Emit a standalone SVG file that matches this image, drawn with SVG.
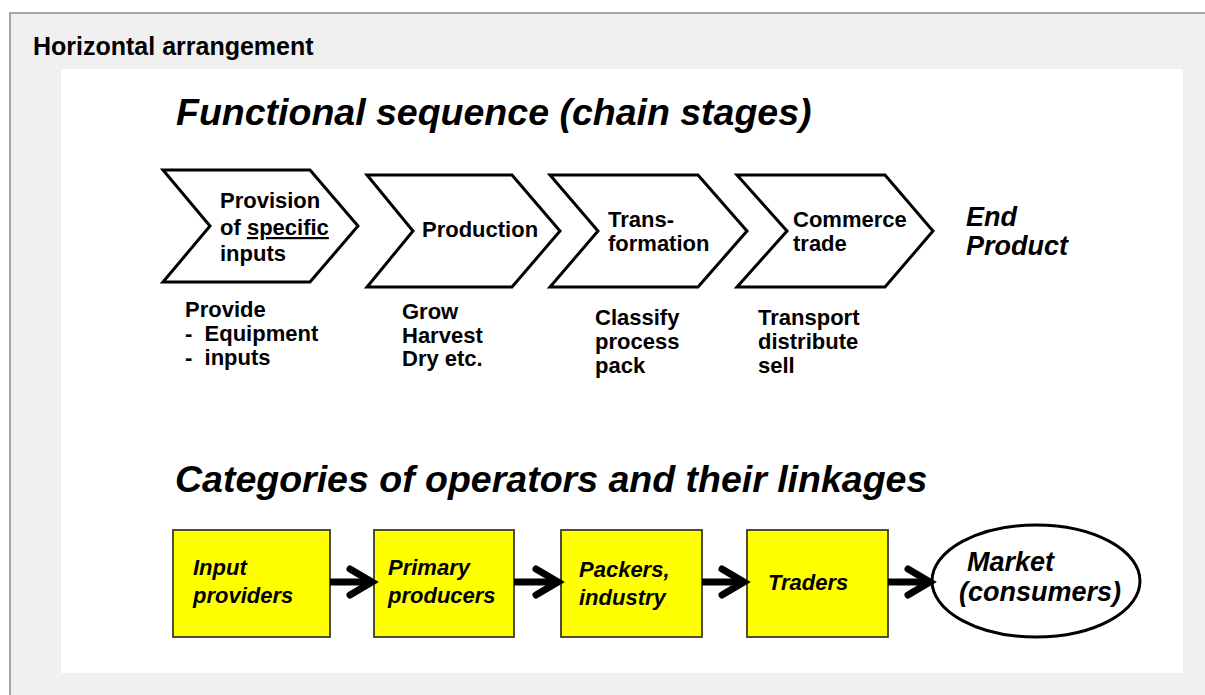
<svg xmlns="http://www.w3.org/2000/svg" width="1205" height="695" viewBox="0 0 1205 695">
<defs>
<style>
.hdr{font-family:"Liberation Sans",Arial,sans-serif;font-weight:bold;font-size:25px;fill:#000}
.title{font-family:"Liberation Sans",Arial,sans-serif;font-weight:bold;font-style:italic;font-size:37.5px;fill:#000}
.chev{fill:#fff;stroke:#000;stroke-width:3;stroke-linejoin:miter}
.ct{font-family:"Liberation Sans",Arial,sans-serif;font-weight:bold;font-size:22px;fill:#000}
.st{font-family:"Liberation Sans",Arial,sans-serif;font-weight:bold;font-size:22px;fill:#000}
.ep{font-family:"Liberation Sans",Arial,sans-serif;font-weight:bold;font-style:italic;font-size:27px;fill:#000}
.box{fill:#ffff00;stroke:#3c3c2c;stroke-width:1.8}
.bt{font-family:"Liberation Sans",Arial,sans-serif;font-weight:bold;font-style:italic;font-size:22px;fill:#000}
.mt{font-family:"Liberation Sans",Arial,sans-serif;font-weight:bold;font-style:italic;font-size:27px;fill:#000}
.arr{stroke:#000;stroke-width:7;fill:none}
.ah{stroke:#000;stroke-width:7;fill:none;stroke-linecap:round;stroke-linejoin:miter}
</style>
</defs>
<rect x="0" y="0" width="1205" height="695" fill="#ffffff"/>
<rect x="10" y="13" width="1200" height="690" fill="#f0f0f0" stroke="#a6a6a6" stroke-width="2"/>
<text class="hdr" x="33" y="55">Horizontal arrangement</text>
<rect x="61" y="69" width="1122" height="604" fill="#ffffff"/>
<text class="title" x="176" y="125">Functional sequence (chain stages)</text>

<g id="stage1">
<polygon class="chev" points="163,170 310,170 358,226 310,282 163,282 210,226"/>
<text class="ct" x="220" y="208">Provision</text>
<text class="ct" x="220" y="235">of <tspan text-decoration="underline">specific</tspan></text>
<text class="ct" x="220" y="261">inputs</text>
<text class="st" x="185" y="317">Provide</text>
<text class="st" x="185" y="341" xml:space="preserve">-  Equipment</text>
<text class="st" x="185" y="365" xml:space="preserve">-  inputs</text>
</g>
<g id="stage2">
<polygon class="chev" points="367,175 512,175 560,231 512,287 367,287 413,231"/>
<text class="ct" x="422" y="237">Production</text>
<text class="st" x="402" y="319">Grow</text>
<text class="st" x="402" y="343">Harvest</text>
<text class="st" x="402" y="366">Dry etc.</text>
</g>
<g id="stage3">
<polygon class="chev" points="550,175 698,175 747,231 698,287 550,287 598,231"/>
<text class="ct" x="608" y="227">Trans-</text>
<text class="ct" x="608" y="251">formation</text>
<text class="st" x="595" y="325">Classify</text>
<text class="st" x="595" y="349">process</text>
<text class="st" x="595" y="373">pack</text>
</g>
<g id="stage4">
<polygon class="chev" points="737,175 885,175 933,231 885,287 737,287 787,231"/>
<text class="ct" x="793" y="227">Commerce</text>
<text class="ct" x="793" y="251">trade</text>
<text class="st" x="758" y="325">Transport</text>
<text class="st" x="758" y="349">distribute</text>
<text class="st" x="758" y="373">sell</text>
</g>
<g id="endproduct">
<text class="ep" x="966" y="226">End</text>
<text class="ep" x="966" y="255">Product</text>
</g>

<text class="title" x="175" y="492">Categories of operators and their linkages</text>

<g id="input-providers">
<rect class="box" x="173" y="530" width="157" height="107"/>
<text class="bt" x="193" y="575">Input</text>
<text class="bt" x="193" y="603">providers</text>
</g>
<g id="primary-producers">
<rect class="box" x="374" y="530" width="140" height="107"/>
<text class="bt" x="388" y="575">Primary</text>
<text class="bt" x="388" y="603">producers</text>
</g>
<g id="packers-industry">
<rect class="box" x="561" y="530" width="141" height="107"/>
<text class="bt" x="579" y="577">Packers,</text>
<text class="bt" x="579" y="605">industry</text>
</g>
<g id="traders">
<rect class="box" x="747" y="530" width="141" height="107"/>
<text class="bt" x="768" y="590">Traders</text>
</g>
<g id="market">
<ellipse cx="1036" cy="581" rx="104" ry="56" fill="#ffffff" stroke="#000" stroke-width="3"/>
<text class="mt" x="967" y="571">Market</text>
<text class="mt" x="959" y="601">(consumers)</text>
</g>

<g id="connectors">
<line class="arr" x1="330" y1="582" x2="368" y2="582"/>
<polyline class="ah" points="350,569 372,582 350,595"/>
<line class="arr" x1="514" y1="582" x2="554" y2="582"/>
<polyline class="ah" points="536,569 558,582 536,595"/>
<line class="arr" x1="702" y1="582" x2="740" y2="582"/>
<polyline class="ah" points="722,569 744,582 722,595"/>
<line class="arr" x1="888" y1="582" x2="926" y2="582"/>
<polyline class="ah" points="908,569 930,582 908,595"/>
</g>
</svg>
